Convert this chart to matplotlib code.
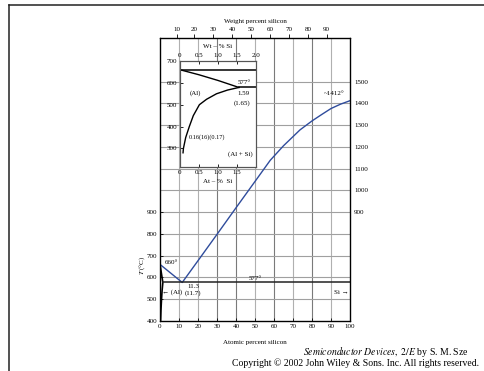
import matplotlib
matplotlib.use("Agg")
import matplotlib.pyplot as plt
from matplotlib.lines import Line2D

plt.rcParams['font.family'] = ['Liberation Serif', 'DejaVu Serif']
plt.rcParams['mathtext.fontset'] = 'stix'

# ---- data ----
# main diagram, atomic percent Si vs temperature
liq_x = [0, 11.7, 20, 30, 40, 50, 58, 65, 73.7, 80, 85, 90, 95, 100]
liq_T = [660, 577, 677, 798, 920, 1041, 1138, 1205, 1278, 1319, 1348, 1376, 1396, 1412]
sol_x = [0, 1.5, 1.1, 0.8, 0.5, 0.3]
sol_T = [660, 577, 540, 500, 450, 400]
eut_x = [1.5, 100]
eut_T = [577, 577]

# weight-percent scale (top axis) : tick labels and their atomic-% positions
wt_labels = ['10', '20', '30', '40', '50', '60', '70', '80', '90']
wt_pos_at = [8.8, 18.1, 28.1, 38.0, 48.0, 57.9, 68.0, 78.0, 87.7]

left_ticks = [400, 500, 600, 700, 800, 900]
right_ticks = [900, 1000, 1100, 1200, 1300, 1400, 1500]
x_ticks = [0, 10, 20, 30, 40, 50, 60, 70, 80, 90, 100]
grid_x = [10, 20, 30, 40, 50, 60, 70, 80, 90]
grid_x_dark = [30, 40, 60, 80]
grid_T = [500, 600, 700, 800, 900, 1000, 1100, 1200, 1300, 1400, 1500]

# inset (Al-rich corner)
in_liq_x = [0, 0.5, 1.0, 1.55]
in_liq_T = [660, 637, 611, 579]
in_solv_x = [0.08, 0.09, 0.15, 0.245, 0.35, 0.51, 0.7, 0.96, 1.25, 1.55]
in_solv_T = [280, 300, 350, 400, 450, 500, 525, 550, 567, 579]
in_top_x = [0, 2.0]
in_top_T = [660, 660]
in_eut_x = [1.55, 2.0]
in_eut_T = [579, 579]
in_xticks_top = [0, 0.5, 1.0, 1.5, 2.0]
in_xticks_bot = [0, 0.5, 1.0, 1.5]
in_yticks = [300, 400, 500, 600, 700]

BLUE = '#2f4c9c'
FS = 5

fig = plt.figure(figsize=(4.84, 3.71), dpi=100)

# frame lines of the page
fig.add_artist(Line2D([9/484, 1.0], [1-5/371, 1-5/371], color='#222222', lw=1.1))
fig.add_artist(Line2D([9/484, 9/484], [0, 1-5/371], color='#222222', lw=1.1))

ax = fig.add_axes([160/484, 50/371, 190/484, 283/371])
ax.set_xlim(0, 100)
ax.set_ylim(400, 1700)

for gx in grid_x:
    c = '#7a7a7a' if gx in grid_x_dark else '#b0b0b0'
    ax.axvline(gx, color=c, lw=0.8, zorder=1)
for gt in grid_T:
    ax.axhline(gt, color='#a0a0a0', lw=0.8, zorder=1)

ax.plot(liq_x, liq_T, color=BLUE, lw=1.0, zorder=3)
ax.plot(sol_x, sol_T, color='black', lw=1.2, zorder=3)
ax.plot(eut_x, eut_T, color='#222222', lw=1.1, zorder=3)

ax.set_xticks(x_ticks)
ax.set_xticklabels([str(v) for v in x_ticks], fontsize=FS)
ax.set_yticks(left_ticks)
ax.set_yticklabels([str(v) for v in left_ticks], fontsize=FS)
ax.tick_params(axis='both', direction='in', length=2, width=0.6, pad=2)
for s in ax.spines.values():
    s.set_linewidth(0.9)
    s.set_color('#444444')

axr = ax.twinx()
axr.set_ylim(400, 1700)
axr.set_yticks(right_ticks)
axr.set_yticklabels([str(v) for v in right_ticks], fontsize=FS)
axr.tick_params(axis='y', direction='in', length=0, pad=3)

axt = ax.twiny()
axt.set_xlim(0, 100)
axt.set_xticks(wt_pos_at)
axt.set_xticklabels(wt_labels, fontsize=FS)
axt.tick_params(axis='x', direction='out', length=3, width=0.6, pad=1.5)
axt.set_xlabel('Weight percent silicon', fontsize=FS, labelpad=3)

ax.set_xlabel('Atomic percent silicon', fontsize=FS, labelpad=8)
ax.text(-9.6, 657, r'$\it{T}$ (°C)', rotation=90, ha='center', va='center', fontsize=FS)

ax.text(2.3, 668, '660°', fontsize=FS, ha='left', va='center', zorder=4)
ax.text(50, 582, '577°', fontsize=FS, ha='center', va='bottom', zorder=4)
ax.text(1.2, 532, '← (Al)', fontsize=FS, ha='left', va='center', zorder=4)
ax.text(17.4, 557, '11.3', fontsize=FS, ha='center', va='center', zorder=4)
ax.text(17.4, 527, '(11.7)', fontsize=FS, ha='center', va='center', zorder=4)
ax.text(99.3, 530, 'Si →', fontsize=FS, ha='right', va='center', zorder=4)
ax.text(91.5, 1447, '~1412°', fontsize=FS, ha='center', va='center', zorder=4)

# inset
ins = fig.add_axes([180/484, 204/371, 76/484, 106/371])
ins.set_facecolor('white')
ins.set_xlim(0, 2.0)
ins.set_ylim(215, 700)
ins.plot(in_top_x, in_top_T, color='black', lw=1.1)
ins.plot(in_liq_x, in_liq_T, color='black', lw=1.0)
ins.plot(in_eut_x, in_eut_T, color='black', lw=1.1)
ins.plot(in_solv_x, in_solv_T, color='black', lw=1.0)
ins.set_xticks(in_xticks_bot)
ins.set_xticklabels(['0', '0.5', '1.0', '1.5'], fontsize=FS)
ins.set_yticks(in_yticks)
ins.set_yticklabels([str(v) for v in in_yticks], fontsize=FS)
ins.tick_params(axis='both', direction='in', length=2, width=0.6, pad=2)
ins.set_xlabel('At – %  Si', fontsize=FS, labelpad=3)
inst = ins.twiny()
inst.set_xlim(0, 2.0)
inst.set_xticks(in_xticks_top)
inst.set_xticklabels(['0', '0.5', '1.0', '1.5', '2.0'], fontsize=FS)
inst.tick_params(axis='x', direction='in', length=2, width=0.6, pad=2)
inst.set_xlabel('Wt – % Si', fontsize=FS, labelpad=4)
for a in (ins, inst):
    for s in a.spines.values():
        s.set_linewidth(0.8)
        s.set_color('#555555')

ins.text(1.7, 600, '577°', fontsize=FS, ha='center', va='center')
ins.text(1.67, 552, '1.59', fontsize=FS, ha='center', va='center')
ins.text(1.63, 506, '(1.65)', fontsize=FS, ha='center', va='center')
ins.text(0.4, 555, '(Al)', fontsize=FS, ha='center', va='center')
ins.text(0.72, 353, '0.16(16)(0.17)', fontsize=4.5, ha='center', va='center')
ins.text(1.6, 272, '(Al + Si)', fontsize=FS, ha='center', va='center')

fig.text(469/484, 1-351.7/371, r'$\it{Semiconductor\ Devices,\ 2/E}$ by S. M. Sze',
         fontsize=7, ha='right', va='center')
fig.text(479/484, 1-362.7/371, 'Copyright © 2002 John Wiley & Sons. Inc. All rights reserved.',
         fontsize=7, ha='right', va='center')

fig.savefig('out.png', dpi=100)
